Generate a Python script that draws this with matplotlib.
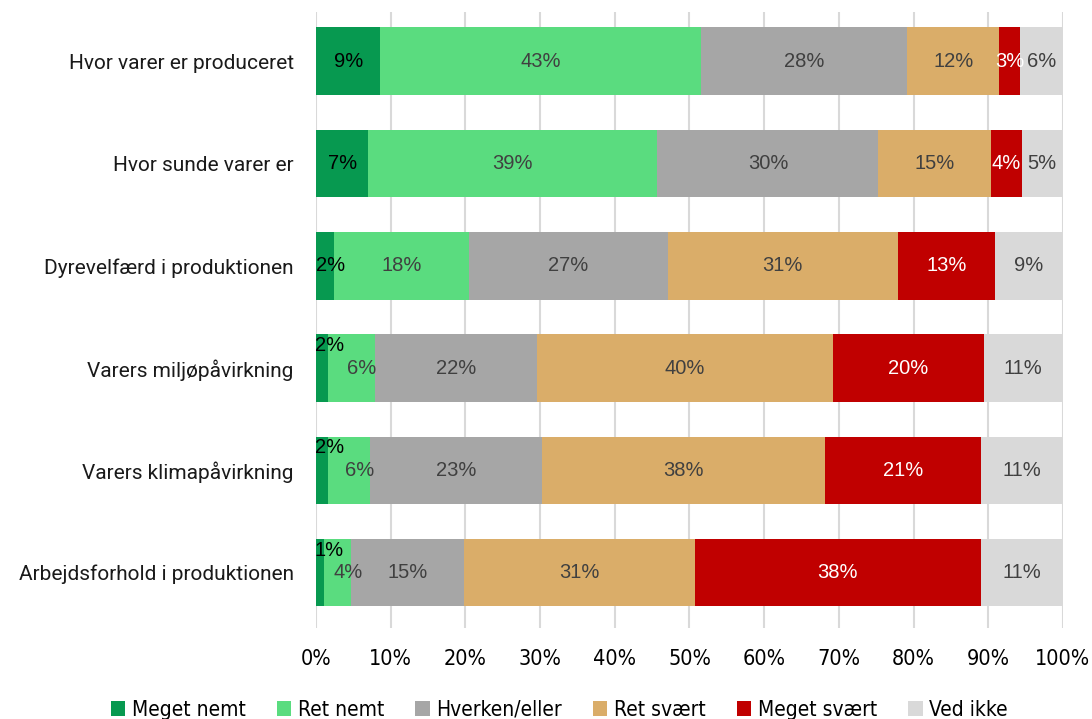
import matplotlib
matplotlib.use("Agg")
import matplotlib.pyplot as plt
from matplotlib.patches import Patch

# Andel svar pr. emne (%), rækkefølge: top -> bund
emner = [
    "Hvor varer er produceret",
    "Hvor sunde varer er",
    "Dyrevelfærd i produktionen",
    "Varers miljøpåvirkning",
    "Varers klimapåvirkning",
    "Arbejdsforhold i produktionen",
]
svar = ["Meget nemt", "Ret nemt", "Hverken/eller", "Ret svært", "Meget svært", "Ved ikke"]

meget_nemt = [8.6, 7.0, 2.4, 1.6, 1.6, 1.1]
ret_nemt = [42.9, 38.7, 18.1, 6.3, 5.6, 3.6]
hverken = [27.6, 29.6, 26.6, 21.7, 23.0, 15.1]
ret_svaert = [12.4, 15.1, 30.8, 39.6, 37.9, 30.9]
meget_svaert = [2.7, 4.1, 13.0, 20.2, 20.9, 38.3]
ved_ikke = [5.8, 5.4, 9.1, 10.6, 11.0, 11.0]

serier = [meget_nemt, ret_nemt, hverken, ret_svaert, meget_svaert, ved_ikke]
farver = ["#079950", "#5ADC7F", "#A6A6A6", "#DAAD69", "#C00000", "#D9D9D9"]
tekstfarver = ["#000000", "#404040", "#404040", "#404040", "#FFFFFF", "#404040"]

label_font = "Liberation Sans"
narrow = dict(family="DejaVu Sans", stretch="condensed")

fig = plt.figure(figsize=(10.92, 7.19), dpi=100)
ax = fig.add_axes([0.2894, 0.1266, 0.6840, 0.8567])

y = list(range(len(emner)))
left = [0.0] * len(emner)
for i, (vals, farve, tf) in enumerate(zip(serier, farver, tekstfarver)):
    ax.barh(y, vals, left=left, height=0.66, color=farve, zorder=2)
    for r, v in enumerate(vals):
        cx = left[r] + v / 2
        cy = r
        ha = "center"
        # små segmenter: label venstrestilles, og løftes hvis naboen også er smal
        if i == 0 and v < 3.0:
            cx, ha = 0.05, "left"
            if v < 2.0:
                cx, cy = -0.2, r - 0.22
        elif i == 1 and meget_nemt[r] < 2.0:
            cx = cx + 1.4
        ax.text(cx, cy, f"{v:.0f}%", ha=ha, va="center", fontsize=14.5,
                color=tf, family=label_font, zorder=3)
    left = [a + b for a, b in zip(left, vals)]

ax.set_xlim(0, 100)
ax.set_ylim(5.54, -0.48)
ax.set_xticks(range(0, 101, 10))
ax.set_xticklabels([f"{t}%" for t in range(0, 101, 10)], fontsize=15.5, **narrow)
ax.set_yticks(y)
ax.set_yticklabels(emner, fontsize=15, family="Roboto", color="#1a1a1a")
ax.tick_params(axis="both", length=0)
ax.tick_params(axis="x", pad=15)
ax.tick_params(axis="y", pad=16)
ax.grid(axis="x", color="#D9D9D9", linewidth=1.5, zorder=0)
for s in ax.spines.values():
    s.set_visible(False)

handles = [Patch(facecolor=f, edgecolor="none") for f in farver]
fig.legend(handles, svar, loc="lower center", bbox_to_anchor=(0.512, -0.027), ncol=6,
           frameon=False, prop=dict(size=15, **narrow),
           handlelength=0.7, handleheight=0.7, handletextpad=0.3, columnspacing=1.5)

fig.savefig("out.png", dpi=100)
